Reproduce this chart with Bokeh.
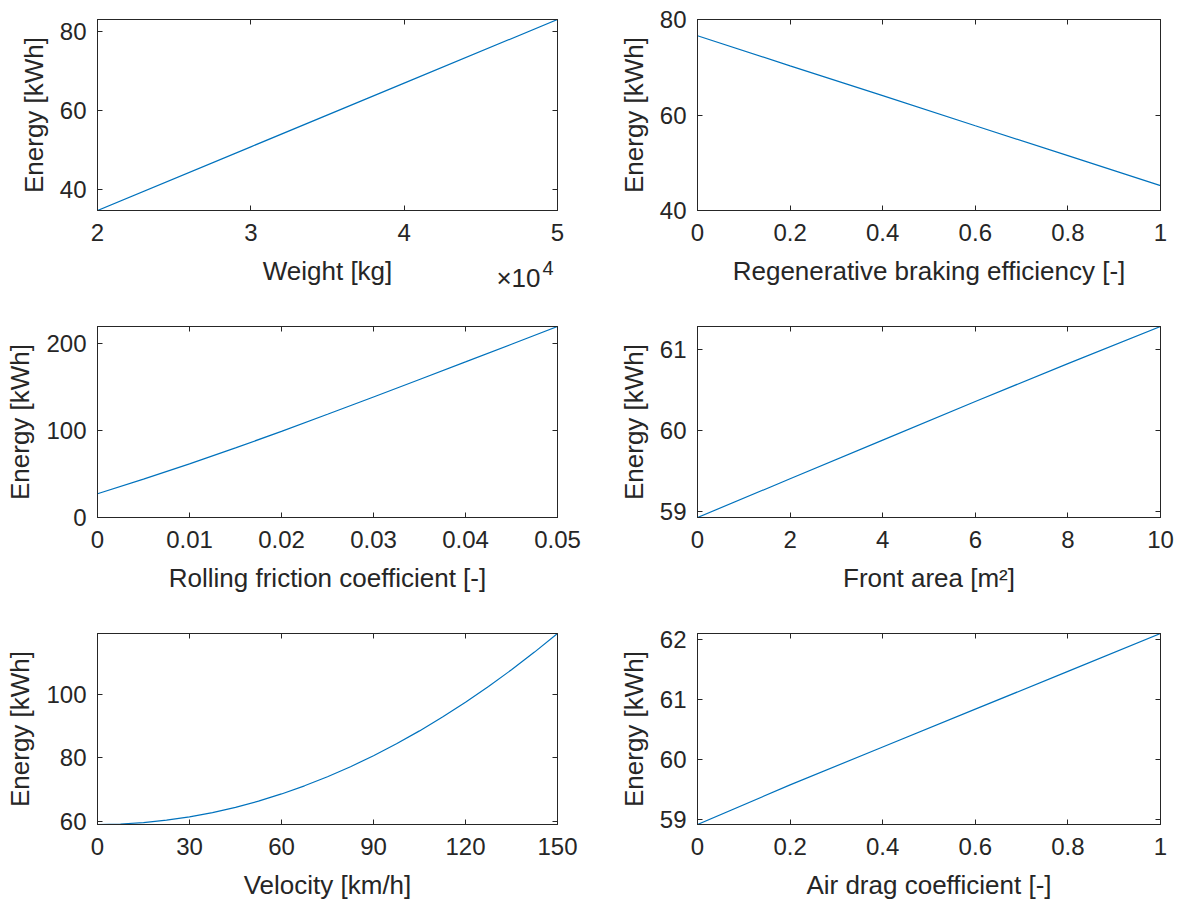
from bokeh.plotting import figure
from bokeh.models import Range1d, FixedTicker, LinearAxis, CustomJSTickFormatter, Title
from bokeh.layouts import column, row
from bokeh.embed import file_html
from bokeh.resources import INLINE

# ---- sensitivity data: energy demand [kWh] versus one vehicle parameter ----
weight_kg = [20000, 30000, 40000, 50000]
energy_weight = [34.7, 50.8, 66.9, 83.0]

regen_eff = [0.0, 0.2, 0.4, 0.6, 0.8, 1.0]
energy_regen = [76.6, 70.3, 64.05, 57.75, 51.5, 45.2]

rolling_coef = [0.0, 0.005, 0.01, 0.015, 0.02, 0.025, 0.03, 0.035, 0.04, 0.045, 0.05]
energy_rolling = [27.3, 44.2, 61.7, 80.2, 99.2, 118.9, 138.8, 158.9, 179.2, 199.6, 220.0]

front_area = [0, 2, 4, 6, 8, 10]
energy_area = [58.92, 59.40, 59.88, 60.36, 60.83, 61.29]

velocity_kmh = [0, 7.5, 15, 22.5, 30, 37.5, 45, 52.5, 60, 67.5, 75, 82.5, 90,
                97.5, 105, 112.5, 120, 127.5, 135, 142.5, 150]
energy_velocity = [58.92, 59.07, 59.52, 60.28, 61.34, 62.69, 64.35, 66.32, 68.58,
                   71.15, 74.02, 77.19, 80.66, 84.43, 88.51, 92.89, 97.56, 102.55,
                   107.83, 113.42, 119.30]

drag_coef = [0.0, 0.2, 0.4, 0.6, 0.8, 1.0]
energy_drag = [58.92, 59.58, 60.21, 60.84, 61.47, 62.10]

# tick positions
weight_ticks = [20000, 30000, 40000, 50000]
weight_yticks = [40, 60, 80]
regen_ticks = [0, 0.2, 0.4, 0.6, 0.8, 1]
regen_yticks = [40, 60, 80]
rolling_ticks = [0, 0.01, 0.02, 0.03, 0.04, 0.05]
rolling_yticks = [0, 100, 200]
area_ticks = [0, 2, 4, 6, 8, 10]
area_yticks = [59, 60, 61]
velocity_ticks = [0, 30, 60, 90, 120, 150]
velocity_yticks = [60, 80, 100]
drag_ticks = [0, 0.2, 0.4, 0.6, 0.8, 1]
drag_yticks = [59, 60, 61, 62]

FONT = "Liberation Sans"
INK = "#262626"
BLUE = "#0072BD"
TICK_PX = "24px"
LABEL_PX = "26px"


def style_axis(ax, show_labels):
    ax.axis_line_color = INK
    ax.axis_line_width = 1
    ax.major_tick_line_color = INK
    ax.major_tick_line_width = 1
    ax.major_tick_in = 5
    ax.major_tick_out = 0
    ax.minor_tick_line_color = None
    ax.major_label_text_font = FONT
    ax.major_label_text_color = INK
    ax.axis_label_text_font = FONT
    ax.axis_label_text_color = INK
    ax.axis_label_text_font_style = "normal"
    ax.axis_label_text_font_size = LABEL_PX
    if show_labels:
        ax.major_label_text_font_size = TICK_PX
    else:
        ax.major_label_text_font_size = "0px"
        ax.major_label_standoff = 0
        ax.formatter = CustomJSTickFormatter(code="return ''")


def panel(x, y, xlabel, xticks, yticks, x_lim, y_lim, right_col, last_row,
          x_code="return String(tick)"):
    p = figure(
        frame_width=463 if right_col else 460,
        frame_height=191,
        min_border_left=97,
        min_border_right=20 if right_col else 43,
        min_border_top=19,
        min_border_bottom=78 if last_row else 97,
        x_range=Range1d(*x_lim),
        y_range=Range1d(*y_lim),
        output_backend="svg",
        toolbar_location=None,
        background_fill_color="white",
        border_fill_color="white",
    )
    p.grid.visible = False
    p.outline_line_color = INK

    xa = p.xaxis[0]
    ya = p.yaxis[0]
    xa.ticker = FixedTicker(ticks=xticks)
    ya.ticker = FixedTicker(ticks=yticks)
    xa.formatter = CustomJSTickFormatter(code=x_code)
    ya.formatter = CustomJSTickFormatter(code="return String(tick)")
    style_axis(xa, True)
    style_axis(ya, True)
    xa.axis_label = xlabel
    ya.axis_label = "Energy [kWh]"
    xa.major_label_standoff = 13
    ya.major_label_standoff = 11
    xa.axis_label_standoff = 12
    ya.axis_label_standoff = 8

    # mirrored box axes with inward ticks on top and right
    top = LinearAxis(ticker=FixedTicker(ticks=xticks))
    rgt = LinearAxis(ticker=FixedTicker(ticks=yticks))
    style_axis(top, False)
    style_axis(rgt, False)
    p.add_layout(top, "above")
    p.add_layout(rgt, "right")

    p.line(x, y, line_color=BLUE, line_width=1.2)
    return p


p1 = panel(weight_kg, energy_weight, "Weight [kg]", weight_ticks, weight_yticks,
           (weight_kg[0], weight_kg[-1]), (min(energy_weight), max(energy_weight)),
           right_col=False, last_row=False, x_code="return String(tick / 10000)")
# exponent of the x tick labels, under the right end of the axis
p1.add_layout(Title(text="\u00d710", align="right", vertical_align="top",
                    offset=17, standoff=-52,
                    text_font=FONT, text_font_size="26px", text_font_style="normal",
                    text_color=INK), "below")
p1.add_layout(Title(text="4", align="right", vertical_align="top",
                    offset=4, standoff=-56,
                    text_font=FONT, text_font_size="20px", text_font_style="normal",
                    text_color=INK), "below")

p2 = panel(regen_eff, energy_regen, "Regenerative braking efficiency [-]", regen_ticks,
           regen_yticks, (0, 1), (40, 80), right_col=True, last_row=False)

p3 = panel(rolling_coef, energy_rolling, "Rolling friction coefficient [-]", rolling_ticks,
           rolling_yticks, (0, 0.05), (0, max(energy_rolling)), right_col=False, last_row=False)

p4 = panel(front_area, energy_area, "Front area [m\u00b2]", area_ticks, area_yticks,
           (0, 10), (min(energy_area), max(energy_area)), right_col=True, last_row=False)

p5 = panel(velocity_kmh, energy_velocity, "Velocity [km/h]", velocity_ticks, velocity_yticks,
           (0, 150), (min(energy_velocity), max(energy_velocity)), right_col=False, last_row=True)

p6 = panel(drag_coef, energy_drag, "Air drag coefficient [-]", drag_ticks, drag_yticks,
           (0, 1), (min(energy_drag), max(energy_drag)), right_col=True, last_row=True)

layout = column(row(p1, p2, spacing=0), row(p3, p4, spacing=0), row(p5, p6, spacing=0),
                spacing=0)

with open("out.html", "w") as f:
    f.write(file_html(layout, INLINE))
